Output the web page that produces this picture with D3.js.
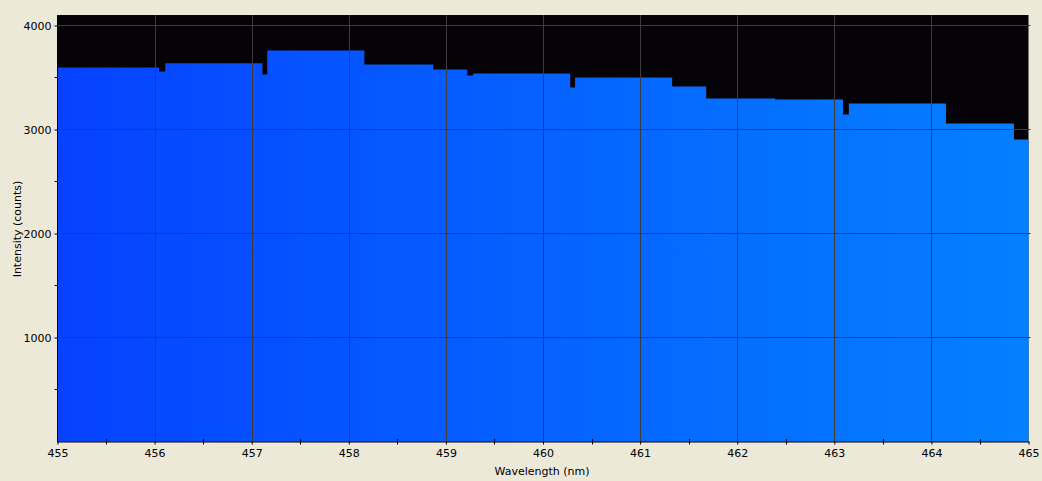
<!DOCTYPE html>
<html>
<head>
<meta charset="utf-8">
<script src="https://cdn.jsdelivr.net/npm/d3@7"></script>
<style>
  html, body { margin: 0; padding: 0; background: #ECE9D8; }
  svg { display: block; }
  text { font-family: "DejaVu Sans", sans-serif; font-size: 11px; fill: #000; }
</style>
</head>
<body>
<svg id="chart" width="1042" height="481"></svg>
<script>
// Step breakpoints (nm) and intensity (counts) held from each breakpoint to the next
const wavelengths = [455.00, 456.045, 456.11, 457.11, 457.16, 458.16, 458.87, 459.22, 459.28,
                     460.28, 460.33, 461.33, 461.68, 462.39, 463.09, 463.15, 464.15, 464.85, 465.00];
const intensities = [3596, 3558, 3638, 3529, 3760, 3625, 3577, 3519, 3538,
                     3404, 3500, 3413, 3298, 3288, 3144, 3250, 3058, 2904, 2904];
const xTicks = [455, 456, 457, 458, 459, 460, 461, 462, 463, 464, 465];
const xMinorTicks = [455.5, 456.5, 457.5, 458.5, 459.5, 460.5, 461.5, 462.5, 463.5, 464.5];
const yTicks = [1000, 2000, 3000, 4000];
const yMinorTicks = [500, 1500, 2500, 3500];
const xDomain = [455, 465];
const yDomain = [0, 4096];

const svg = d3.select("#chart");
const L = 57.5, R = 1028.5, T = 15.5, B = 441.5;
const x = d3.scaleLinear().domain(xDomain).range([L, R]);
const y = d3.scaleLinear().domain(yDomain).range([B, T]);

// gradient (wavelength colour)
const defs = svg.append("defs");
const grad = defs.append("linearGradient").attr("id", "wl")
  .attr("gradientUnits", "userSpaceOnUse")
  .attr("x1", L).attr("x2", R).attr("y1", 0).attr("y2", 0);
grad.append("stop").attr("offset", "0%").attr("stop-color", "rgb(6,66,255)");
grad.append("stop").attr("offset", "50%").attr("stop-color", "rgb(5,98,255)");
grad.append("stop").attr("offset", "100%").attr("stop-color", "rgb(4,128,255)");

// plot background
svg.append("rect").attr("x", L).attr("y", T - 0.5).attr("width", R - L).attr("height", B - T + 0.5)
  .attr("fill", "#050308");

// filled step area
const pts = wavelengths.map((w, i) => [w, intensities[i]]);
const area = d3.area()
  .curve(d3.curveStepAfter)
  .x(d => x(d[0]))
  .y0(y(0))
  .y1(d => y(d[1]));
svg.append("path").datum(pts).attr("d", area).attr("fill", "url(#wl)");

// gridlines
const grid = svg.append("g").attr("stroke", "#3c3c3c").attr("stroke-width", 1);
grid.selectAll("line.v").data(xTicks.slice(1, -1)).join("line")
  .attr("x1", d => Math.round(x(d)) + 0.5).attr("x2", d => Math.round(x(d)) + 0.5)
  .attr("y1", T - 0.5).attr("y2", B);
grid.selectAll("line.h").data(yTicks).join("line")
  .attr("x1", L).attr("x2", R + 2)
  .attr("y1", d => Math.round(y(d) - 0.5) + 0.5).attr("y2", d => Math.round(y(d) - 0.5) + 0.5);

// x axis
const xAxis = d3.axisBottom(x).tickValues(xTicks).tickSize(3).tickPadding(5)
  .tickFormat(d3.format("d"));
const gx = svg.append("g").attr("transform", `translate(0,${B})`).call(xAxis);
gx.select(".domain").attr("stroke", "#000").attr("d", `M${L - 0.5},0.5H${R + 1}`);
gx.selectAll(".tick line").attr("stroke", "#000");
gx.selectAll(".tick text").attr("font-family", "DejaVu Sans").attr("font-size", 11).attr("fill", "#000");
svg.append("g").attr("stroke", "#000").selectAll("line").data(xMinorTicks).join("line")
  .attr("x1", d => Math.round(x(d)) + 0.5).attr("x2", d => Math.round(x(d)) + 0.5)
  .attr("y1", B - 2.5).attr("y2", B + 3);

// y axis
const yAxis = d3.axisLeft(y).tickValues(yTicks).tickSize(3).tickPadding(3)
  .tickFormat(d3.format("d"));
const gy = svg.append("g").attr("transform", `translate(${L},0)`).call(yAxis);
gy.select(".domain").attr("stroke", "#000").attr("d", `M0,${T - 0.5}V${B}`);
gy.selectAll(".tick line").attr("stroke", "#000");
gy.selectAll(".tick text").attr("font-family", "DejaVu Sans").attr("font-size", 11).attr("fill", "#000");
svg.append("g").attr("stroke", "#000").selectAll("line").data(yMinorTicks).join("line")
  .attr("x1", L - 3).attr("x2", L)
  .attr("y1", d => Math.round(y(d) - 0.5) + 0.5).attr("y2", d => Math.round(y(d) - 0.5) + 0.5);

// axis titles
svg.append("text").attr("x", 542).attr("y", 475).attr("text-anchor", "middle")
  .text("Wavelength (nm)");
svg.append("text").attr("transform", "translate(21,229) rotate(-90)").attr("text-anchor", "middle")
  .text("Intensity (counts)");
</script>
</body>
</html>
